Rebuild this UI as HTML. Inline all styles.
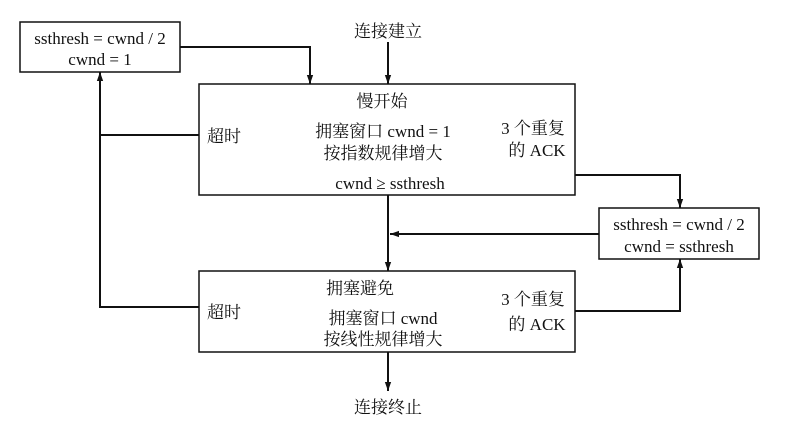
<!DOCTYPE html>
<html><head><meta charset="utf-8"><style>
html,body{margin:0;padding:0;background:#fff;width:792px;height:424px;overflow:hidden}
text{font-family:"Liberation Serif","Noto Serif CJK SC","Noto Sans CJK SC",serif;font-size:17px;fill:#111}
</style></head><body>
<svg width="792" height="424" viewBox="0 0 792 424" xmlns="http://www.w3.org/2000/svg">
<defs><marker id="a" viewBox="0 0 10 10" refX="10" refY="5" markerWidth="11" markerHeight="9" markerUnits="userSpaceOnUse" orient="auto"><path d="M0,1.5 L10,5 L0,8.5 z" fill="#111"/></marker></defs>
<g fill="none" stroke="#111" stroke-width="2">
<rect x="20" y="22" width="160" height="50" stroke-width="1.5"/>
<rect x="199" y="84" width="376" height="111" stroke-width="1.5"/>
<rect x="599" y="208" width="160" height="51" stroke-width="1.5"/>
<rect x="199" y="271" width="376" height="81" stroke-width="1.5"/>
<path d="M388,42 V84" marker-end="url(#a)"/>
<path d="M180,47 H310 V84" marker-end="url(#a)"/>
<path d="M388,195 V271" marker-end="url(#a)"/>
<path d="M388,352 V391" marker-end="url(#a)"/>
<path d="M199,135 H100"/>
<path d="M199,307 H100 V72" marker-end="url(#a)"/>
<path d="M575,175 H680 V208" marker-end="url(#a)"/>
<path d="M599,234 H390" marker-end="url(#a)"/>
<path d="M575,311 H680 V259" marker-end="url(#a)"/>
</g>
<g text-anchor="middle">
<text x="100" y="44">ssthresh = cwnd / 2</text>
<text x="100" y="65">cwnd = 1</text>
<text x="388" y="37">连接建立</text>
<text x="382" y="107">慢开始</text>
<text x="383" y="137">拥塞窗口 cwnd = 1</text>
<text x="383" y="159">按指数规律增大</text>
<text x="390" y="189">cwnd ≥ ssthresh</text>
<text x="533" y="134">3 个重复</text>
<text x="537" y="156">的 ACK</text>
<text x="679" y="230">ssthresh = cwnd / 2</text>
<text x="679" y="252">cwnd = ssthresh</text>
<text x="360" y="294">拥塞避免</text>
<text x="383" y="324">拥塞窗口 cwnd</text>
<text x="383" y="345">按线性规律增大</text>
<text x="533" y="305">3 个重复</text>
<text x="537" y="330">的 ACK</text>
<text x="388" y="413">连接终止</text>
</g>
<text x="207" y="142">超时</text>
<text x="207" y="318">超时</text>
</svg>
</body></html>
